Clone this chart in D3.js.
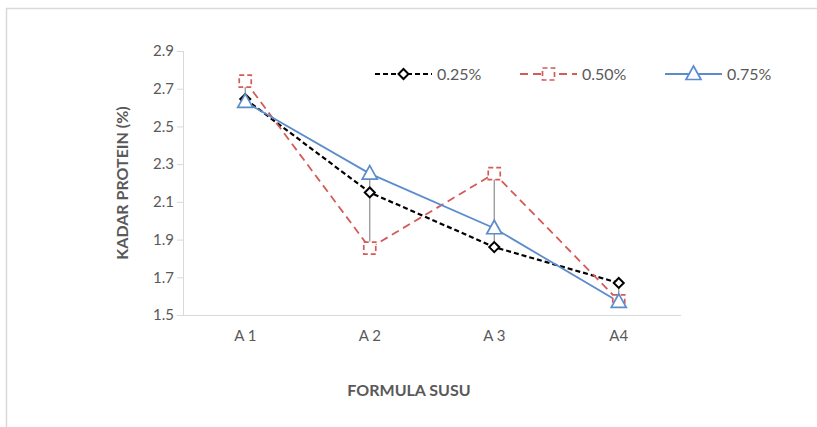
<!DOCTYPE html>
<html>
<head>
<meta charset="utf-8">
<script src="https://cdn.jsdelivr.net/npm/d3@7"></script>
<style>
  body { margin: 0; background: #fff; }
  text { font-family: Lato, "Open Sans", sans-serif; }
</style>
</head>
<body>
<div class="chart"></div>
<script>
var categories = ["A1", "A2", "A3", "A4"];
var categoryLabels = ["A 1", "A 2", "A 3", "A4"];
var yTicks = [1.5, 1.7, 1.9, 2.1, 2.3, 2.5, 2.7, 2.9];

var series025 = [2.645, 2.15, 1.86, 1.67];
var series050 = [2.74, 1.855, 2.25, 1.575];
var series075 = [2.63, 2.25, 1.96, 1.57];

var errLow = [2.64, 1.89, 1.845, 1.58];
var errHigh = [2.735, 2.225, 2.258, 1.685];

var seriesNames = ["0.25%", "0.50%", "0.75%"];

var svgWidth = 817;
var svgHeight = 427;

var margin = { top: 51, right: 136, bottom: 112, left: 183 };
var width = svgWidth - margin.left - margin.right;
var height = svgHeight - margin.top - margin.bottom;

var svg = d3.select(".chart")
    .append("svg")
    .attr("width", svgWidth)
    .attr("height", svgHeight);

// outer frame
svg.append("path")
    .attr("d", "M6.5," + svgHeight + " V8.5 H" + svgWidth)
    .attr("fill", "none")
    .attr("stroke", "#d9d9d9")
    .attr("stroke-width", 1.5);

var chartGroup = svg.append("g")
    .attr("transform", `translate(${margin.left}, ${margin.top})`);

var x = d3.scaleBand()
    .domain(categories)
    .range([0, width]);

var y = d3.scaleLinear()
    .domain([1.5, 2.9])
    .range([height, 0]);

var cx = function(i) { return x(categories[i]) + x.bandwidth() / 2; };

// y axis
var leftAxis = d3.axisLeft(y)
    .tickValues(yTicks)
    .tickFormat(d3.format(".1f"))
    .tickSize(6)
    .tickPadding(3);

var yAxis = chartGroup.append("g").call(leftAxis);
yAxis.select(".domain").attr("stroke", "#d9d9d9").attr("d", "M0.5,0V" + height);
yAxis.selectAll(".tick line").attr("stroke", "#d9d9d9").attr("x1", 0.5);
yAxis.selectAll(".tick text")
    .attr("fill", "#595959")
    .attr("font-size", "15px")
    .style("font-family", "Lato, sans-serif");

// x axis
var bottomAxis = d3.axisBottom(x)
    .tickSize(0)
    .tickPadding(15)
    .tickFormat(function(d, i) { return categoryLabels[i]; });

var xAxis = chartGroup.append("g")
    .attr("transform", `translate(0, ${height})`)
    .call(bottomAxis);
xAxis.select(".domain").attr("stroke", "#d9d9d9").attr("d", "M-6,0.5H" + width);
xAxis.selectAll(".tick text")
    .attr("fill", "#595959")
    .attr("font-size", "15px")
    .style("font-family", "Lato, sans-serif");

// error bars
chartGroup.selectAll(".err")
    .data(categories)
    .enter()
    .append("line")
    .attr("class", "err")
    .attr("x1", (d, i) => cx(i))
    .attr("x2", (d, i) => cx(i))
    .attr("y1", (d, i) => y(errLow[i]))
    .attr("y2", (d, i) => y(errHigh[i]))
    .attr("stroke", "#8c8c8c")
    .attr("stroke-width", 1.2);

var line = d3.line()
    .x((d, i) => cx(i))
    .y(d => y(d));

var styles = [
    { values: series025, color: "#000000", dash: "5,3", marker: "diamond", width: 2.2 },
    { values: series050, color: "#d35b58", dash: "8,5", marker: "square", width: 1.8 },
    { values: series075, color: "#5b8ccc", dash: null, marker: "triangle", width: 1.8 }
];

function markerPath(type) {
    if (type === "diamond") return "M0,-5 L5,0 L0,5 L-5,0 Z";
    if (type === "square") return "M-6,-6 H6 V6 H-6 Z";
    return "M0,-8 L7.5,5.5 L-7.5,5.5 Z";
}

styles.forEach(function(s) {
    chartGroup.append("path")
        .datum(s.values)
        .attr("d", line)
        .attr("fill", "none")
        .attr("stroke", s.color)
        .attr("stroke-width", s.width)
        .attr("stroke-dasharray", s.dash);
});

styles.forEach(function(s) {
    chartGroup.selectAll(null)
        .data(s.values)
        .enter()
        .append("path")
        .attr("transform", (d, i) => `translate(${cx(i)}, ${y(d)})`)
        .attr("d", markerPath(s.marker))
        .attr("fill", "#fff")
        .attr("stroke", s.color)
        .attr("stroke-width", s.marker === "diamond" ? 2 : 1.7)
        .attr("stroke-dasharray", s.marker === "square" ? "5,3" : null);
});

// legend
var legendX = [375, 520, 665];
var legend = svg.append("g").attr("transform", "translate(0, 74)");
styles.forEach(function(s, i) {
    var g = legend.append("g").attr("transform", `translate(${legendX[i]}, 0)`);
    g.append("line")
        .attr("x1", 0).attr("x2", 57)
        .attr("y1", 0).attr("y2", 0)
        .attr("stroke", s.color)
        .attr("stroke-width", s.width)
        .attr("stroke-dasharray", s.dash);
    g.append("path")
        .attr("transform", "translate(28.5, 0)")
        .attr("d", markerPath(s.marker))
        .attr("fill", "#fff")
        .attr("stroke", s.color)
        .attr("stroke-width", s.marker === "diamond" ? 2 : 1.7)
        .attr("stroke-dasharray", s.marker === "square" ? "5,3" : null);
    g.append("text")
        .attr("x", 62)
        .attr("y", 6)
        .attr("fill", "#595959")
        .attr("font-size", "16px")
        .text(seriesNames[i]);
});

// axis titles
svg.append("text")
    .attr("x", 409)
    .attr("y", 396)
    .attr("text-anchor", "middle")
    .attr("font-size", "16px")
    .attr("font-weight", "bold")
    .attr("fill", "#595959")
    .text("FORMULA SUSU");

svg.append("text")
    .attr("transform", "rotate(-90)")
    .attr("x", -183)
    .attr("y", 128)
    .attr("text-anchor", "middle")
    .attr("font-size", "16px")
    .attr("font-weight", "bold")
    .attr("fill", "#595959")
    .text("KADAR PROTEIN (%)");
</script>
</body>
</html>
